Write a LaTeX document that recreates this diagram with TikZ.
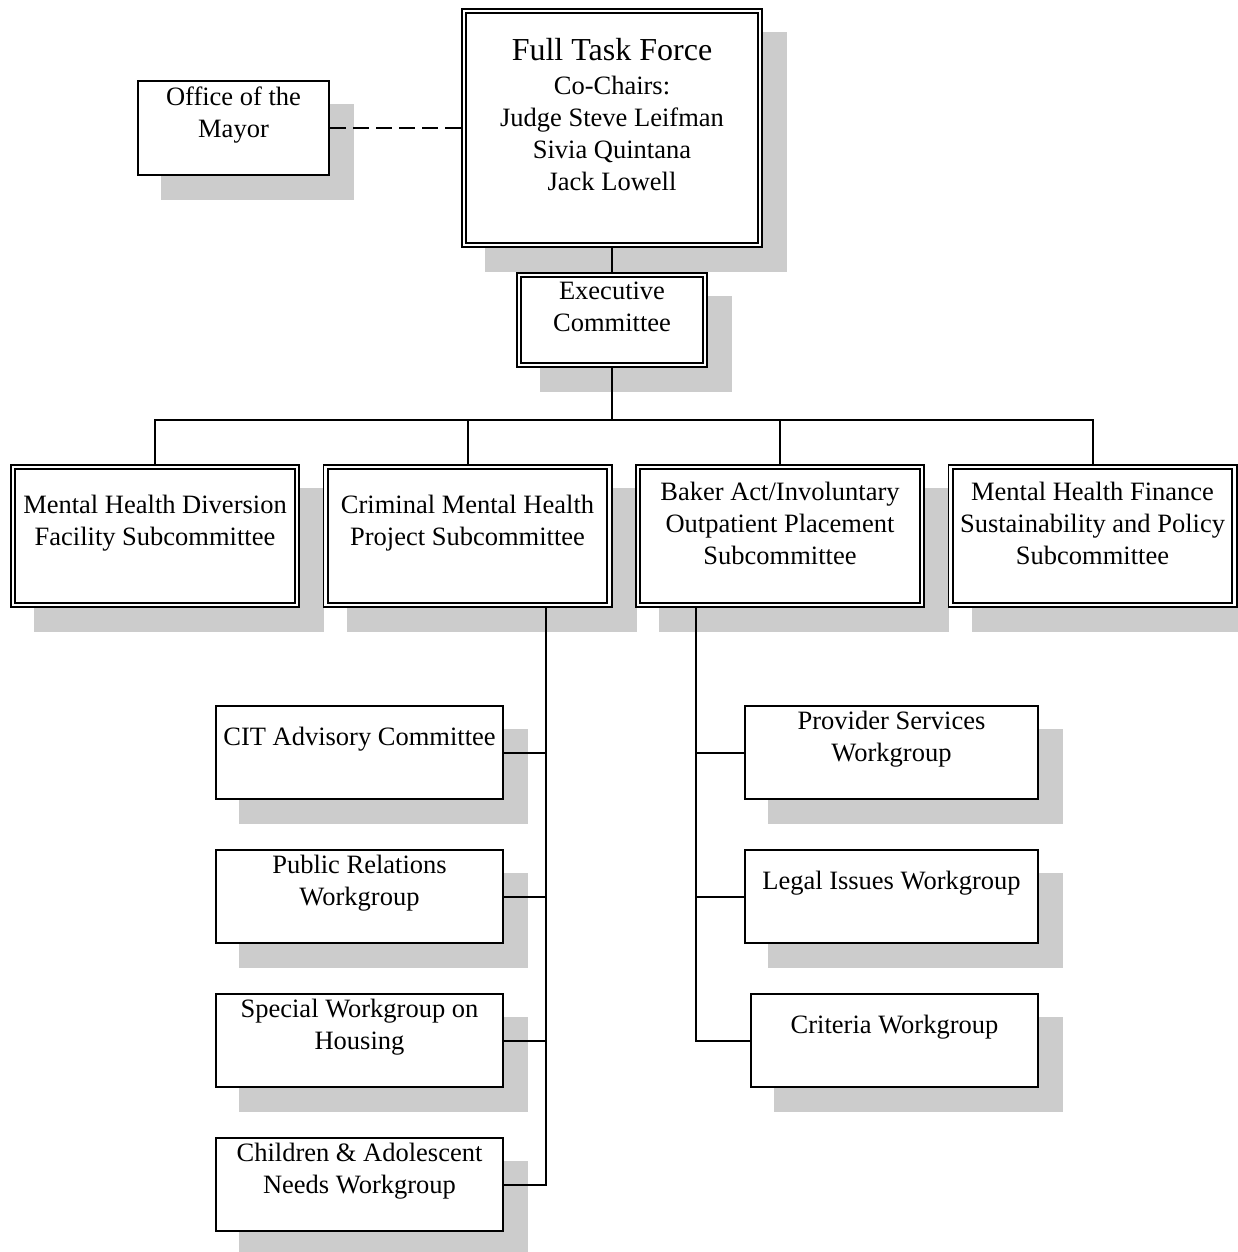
\documentclass[tikz,border=0pt]{standalone}
\usepackage{fontspec}
\setmainfont{Liberation Serif}
\usetikzlibrary{backgrounds}
\definecolor{shadeclr}{rgb}{0.8, 0.8, 0.8}
\tikzset{ %
  ,every node/.style={font=\fontsize{26.5}{32}\selectfont}
  ,dblbox/.style={draw, double, double distance=2.6pt, line width=1.8pt, fill=white, inner sep=0, outer sep=3.1pt}
  ,sglbox/.style={draw, line width=2pt, fill=white, inner sep=0, outer sep=1pt}
  ,sub/.style={dblbox, minimum width=283.8pt, minimum height=137.8pt}
  ,wg/.style={sglbox, minimum width=287pt, minimum height=93pt}
  ,txt/.style={align=center, inner sep=0, yshift=13pt}
  ,link/.style={line width=2pt}
}

\begin{document}
\begin{tikzpicture}[x=1pt, y=-1pt]
  \useasboundingbox (0,0) rectangle (1238,1252);
  % boxes
  \node[dblbox, minimum width=295.8pt, minimum height=233.8pt] (ftf) at (612,128) {};
  \node[sglbox, minimum width=191pt, minimum height=94pt] (mayor) at (233.5,128) {};
  \node[dblbox, minimum width=185.8pt, minimum height=89.8pt] (exec) at (612,320) {};
  \node[sub] (sub1) at (155,536) {};
  \node[sub] (sub2) at (467.5,536) {};
  \node[sub] (sub3) at (780,536) {};
  \node[sub] (sub4) at (1092.5,536) {};
  \node[wg] (cit) at (359.5,752.5) {};
  \node[wg] (pr) at (359.5,896.5) {};
  \node[wg] (housing) at (359.5,1040.5) {};
  \node[wg] (kids) at (359.5,1184.5) {};
  \node[wg, minimum width=293pt] (prov) at (891.5,752.5) {};
  \node[wg, minimum width=293pt] (legal) at (891.5,896.5) {};
  \node[wg] (crit) at (894.5,1040.5) {};
  % texts
  \node[txt] (ftf-t) at (ftf) {{\fontsize{32}{38}\selectfont Full Task Force}\\[2pt]Co-Chairs:\\Judge Steve Leifman\\Sivia Quintana\\Jack Lowell};
  \node[txt] (mayor-t) at (mayor) {Office of the\\Mayor};
  \node[txt] (exec-t) at (exec) {Executive\\Committee};
  \node[txt] (sub1-t) at (sub1) {Mental Health Diversion\\Facility Subcommittee};
  \node[txt] (sub2-t) at (sub2) {Criminal Mental Health\\Project Subcommittee};
  \node[txt] (sub3-t) at (sub3) {Baker Act/Involuntary\\Outpatient Placement\\Subcommittee};
  \node[txt] (sub4-t) at (sub4) {Mental Health Finance\\Sustainability and Policy\\Subcommittee};
  \node[txt] (cit-t) at (cit) {CIT Advisory Committee};
  \node[txt] (pr-t) at (pr) {Public Relations\\Workgroup};
  \node[txt] (housing-t) at (housing) {Special Workgroup on\\Housing};
  \node[txt] (kids-t) at (kids) {Children \& Adolescent\\Needs Workgroup};
  \node[txt] (prov-t) at (prov) {Provider Services\\Workgroup};
  \node[txt] (legal-t) at (legal) {Legal Issues Workgroup};
  \node[txt] (crit-t) at (crit) {Criteria Workgroup};
  % shadows
  \begin{scope}[on background layer]
    \foreach \n in {ftf,mayor,exec,sub1,sub2,sub3,sub4,cit,pr,housing,kids,prov,legal,crit}
      \fill[shadeclr] ([shift={(24pt,-24pt)}]\n.south west) rectangle ([shift={(24pt,-24pt)}]\n.north east);
  \end{scope}
  % connectors
  \draw[link] (ftf) -- (exec);
  \draw[link, dash pattern=on 16pt off 7pt] (mayor) -- (ftf);
  \coordinate (bus) at (612,420);
  \foreach \s in {sub1,sub2,sub3,sub4}
    \draw[link] (exec.south) |- (bus) -| (\s.north);
  \foreach \w in {cit,pr,housing,kids}
    \draw[link] ([xshift=78.5pt]sub2.south) |- (\w.east);
  \foreach \w in {prov,legal,crit}
    \draw[link] ([xshift=-84pt]sub3.south) |- (\w.west);
\end{tikzpicture}
\end{document}
